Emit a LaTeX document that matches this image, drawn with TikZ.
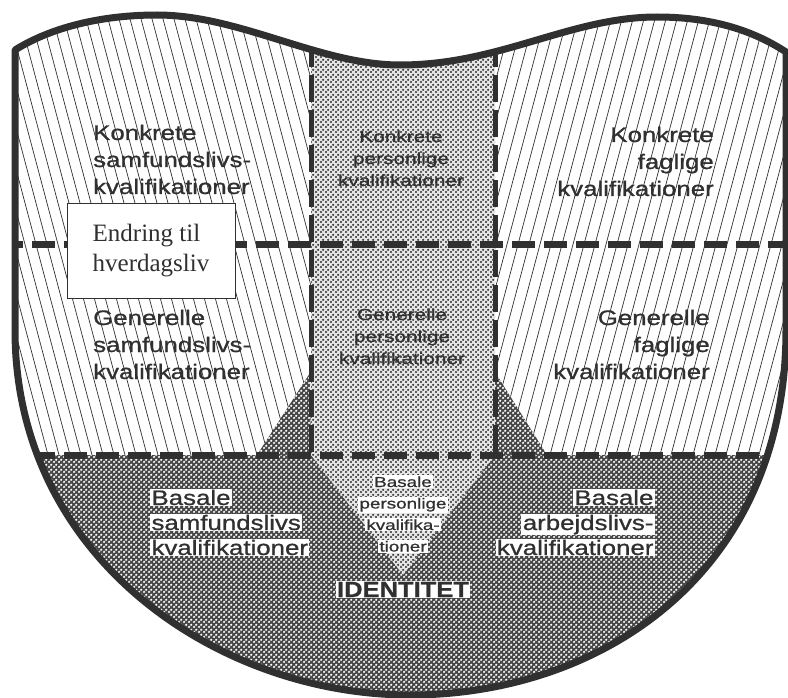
\documentclass[tikz,border=0pt]{standalone}
\usepackage{fontspec}
\setmainfont{Liberation Serif}
\newfontfamily\arialfont[FakeBold=0.8]{Liberation Sans}
\usepackage{graphicx}
\usetikzlibrary{patterns}

\definecolor{ink}{HTML}{303030}
\definecolor{screenbase}{HTML}{474747}
\definecolor{paleground}{HTML}{E6E6E6}

% halftone screens
\pgfdeclarepatternformonly{coarse dots}{\pgfpointorigin}{\pgfqpoint{5pt}{5pt}}{\pgfqpoint{5pt}{5pt}}{%
  \pgfpathcircle{\pgfqpoint{1.25pt}{1.25pt}}{1.35pt}%
  \pgfpathcircle{\pgfqpoint{3.75pt}{3.75pt}}{1.35pt}%
  \pgfusepathqfill}
\pgfdeclarepatternformonly{fine dots}{\pgfpointorigin}{\pgfqpoint{4.6pt}{4.6pt}}{\pgfqpoint{4.6pt}{4.6pt}}{%
  \pgfpathcircle{\pgfqpoint{1.15pt}{1.15pt}}{1.3pt}%
  \pgfpathcircle{\pgfqpoint{3.45pt}{3.45pt}}{1.3pt}%
  \pgfusepathqfill}

% outline of the bowl
\newcommand{\bowlpath}{(15,50) .. controls (50,28) and (100,15) .. (157,15)
  .. controls (240,15) and (320,65) .. (400,65)
  .. controls (500,65) and (570,17) .. (657,17)
  .. controls (720,17) and (760,35) .. (786,52)
  -- (786,330) .. controls (786,575) and (600,695) .. (410,695)
  .. controls (220,695) and (15,560) .. (15,330) -- cycle}

% stretched multi-line label
\newcommand{\wide}[3]{\scalebox{#1}[1]{\begin{tabular}[t]{@{}#2@{}}#3\end{tabular}}}
% word on a white ground inside the dark field
\newcommand{\halo}[1]{{\setlength{\fboxsep}{1.1pt}\colorbox{white}{#1}}}

\begin{document}
\begin{tikzpicture}[x=1pt,y=-1pt,
  hatch/.style={ink, line width=0.7pt},
  darkscreen/.style={preaction={fill=screenbase}, pattern=fine dots, pattern color=white},
  lightscreen/.style={preaction={fill=paleground}, pattern=coarse dots, pattern color=ink},
  hdash/.style={ink, line width=7pt, dash pattern=on 23pt off 9pt},
  vdash/.style={ink, line width=5pt, dash pattern=on 27pt off 8pt},
  rim/.style={ink, line width=7pt, line join=round},
  lbl/.style={inner sep=0pt, text=ink},
  big/.style={lbl, font=\arialfont\fontsize{21}{27}\selectfont},
  bigb/.style={lbl, font=\arialfont\fontsize{21}{25}\selectfont},
  mid/.style={lbl, font=\arialfont\fontsize{16}{22}\selectfont},
  small/.style={lbl, font=\arialfont\fontsize{14.5}{21.5}\selectfont},
  noteBox/.style={draw=ink, line width=0.8pt, fill=white, text=ink,
    minimum width=168pt, minimum height=95pt, align=left, inner sep=0pt,
    font=\fontsize{25}{30}\selectfont}]

\useasboundingbox (0,0) rectangle (788,698);

\begin{scope}
  \clip \bowlpath;
  % hatched side fields
  \begin{scope}
    \clip (0,0) rectangle (311,455);
    \foreach \x in {-150,-139,...,320} \draw[hatch] (\x,0) -- ++(125,470);
  \end{scope}
  \begin{scope}
    \clip (495,0) rectangle (788,455);
    \foreach \x in {495,506,...,940} \draw[hatch] (\x,0) -- ++(-125,470);
  \end{scope}
  % central column
  \fill[lightscreen] (311,0) rectangle (495,455);
  % funnel wedges
  \fill[darkscreen] (257,455) -- (310,373) -- (311,455) -- cycle;
  \fill[darkscreen] (495,372) -- (547,455) -- (495,455) -- cycle;
  % basal field
  \fill[darkscreen] (0,455) rectangle (788,698);
  \fill[lightscreen] (311,455) -- (495,455) -- (403,575) -- cycle;
  % dividing lines
  \draw[hdash] (0,245) -- (788,245);
  \draw[hdash] (0,455) -- (788,455);
  \draw[vdash] (311,40) -- (311,455);
  \draw[vdash] (495,40) -- (495,455);
\end{scope}

\draw[rim] \bowlpath;

% labels
\node[big, anchor=base west] (ks) at (93,140) {\wide{1.23}{l}{Konkrete\\samfundslivs-\\kvalifikationer}};
\node[mid, anchor=base] (kp) at (401,142) {\wide{1.3}{c}{Konkrete\\personlige\\kvalifikationer}};
\node[big, anchor=base east] (kf) at (714,142) {\wide{1.23}{r}{Konkrete\\faglige\\kvalifikationer}};

\node[big, anchor=base west] (gs) at (93,325) {\wide{1.23}{l}{Generelle\\samfundslivs-\\kvalifikationer}};
\node[mid, anchor=base] (gp) at (402,320) {\wide{1.3}{c}{Generelle\\personlige\\kvalifikationer}};
\node[big, anchor=base east] (gf) at (710,325) {\wide{1.23}{r}{Generelle\\faglige\\kvalifikationer}};

\node[bigb, anchor=base west] (bs) at (150,505) {\wide{1.23}{l}{\halo{Basale}\\\halo{samfundslivs}\\\halo{kvalifikationer}}};
\node[small, anchor=base] (bp) at (403,487) {\wide{1.3}{c}{\halo{Basale}\\\halo{personlige}\\\halo{kvalifika-}\\\halo{tioner}}};
\node[bigb, anchor=base east] (ba) at (655,505) {\wide{1.23}{r}{\halo{Basale}\\\halo{arbejdslivs-}\\\halo{kvalifikationer}}};

\node[lbl, anchor=base, font=\arialfont\bfseries\fontsize{22}{22}\selectfont] (id) at (403,597) {\scalebox{1.16}[1]{\halo{IDENTITET}}};

\node[noteBox] (endring) at (151,250.5) {Endring til\\hverdagsliv};
\end{tikzpicture}
\end{document}
